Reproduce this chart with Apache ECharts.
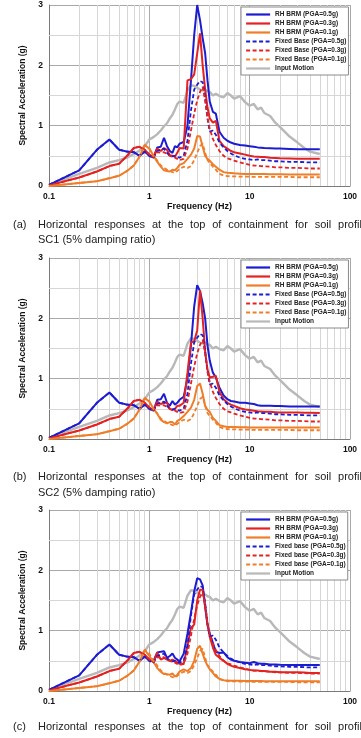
<!DOCTYPE html>
<html>
<head>
<meta charset="utf-8">
<title>Spectral acceleration at top of containment</title>
<script src="https://cdn.jsdelivr.net/npm/echarts@6/dist/echarts.min.js"></script>
<style>
  html, body { margin: 0; padding: 0; background: #fff; overflow: hidden; }
  #main { width: 361px; height: 738px; }
</style>
</head>
<body>
<div id="main"></div>
<script type="text/javascript">
// frequency grid (Hz) shared by every curve
var freq = [0.1, 0.2, 0.3, 0.4, 0.5, 0.6, 0.7, 0.8, 0.9, 1.0,
            1.1, 1.2, 1.3, 1.4, 1.5, 1.6, 1.7, 1.8, 1.9, 2.0,
            2.2, 2.4, 2.6, 2.8, 3.0, 3.2, 3.4, 3.6, 3.8, 4.0,
            4.3, 4.6, 5.0, 5.5, 6.0, 6.5, 7.0, 8.0, 9.0, 10,
            11, 12, 13, 14, 16, 18, 20, 25, 30, 35,
            40, 50];

// input motion (same in all panels)
var inputMotion = [0.02, 0.2, 0.3, 0.39, 0.43, 0.47, 0.53, 0.59, 0.66, 0.77,
                   0.81, 0.86, 0.92, 0.99, 1.04, 1.12, 1.18, 1.27, 1.36, 1.40,
                   1.38, 1.58, 1.67, 1.66, 1.63, 1.6, 1.58, 1.6, 1.57, 1.56,
                   1.5, 1.53, 1.49, 1.47, 1.54, 1.5, 1.45, 1.49, 1.39, 1.33,
                   1.36, 1.27, 1.3, 1.21, 1.16, 1.05, 0.98, 0.82, 0.72, 0.63,
                   0.57, 0.53];

// fixed base responses (same in all panels)
var fixedBase05 = [0.02, 0.26, 0.6, 0.77, 0.6, 0.57, 0.56, 0.5, 0.57, 0.5,
                   0.47, 0.58, 0.6, 0.62, 0.55, 0.5, 0.49, 0.5, 0.48, 0.47,
                   0.5, 0.75, 1.25, 1.6, 1.68, 1.74, 1.72, 1.45, 1.12, 0.9,
                   0.92, 0.85, 0.72, 0.64, 0.58, 0.54, 0.51, 0.47, 0.45, 0.44,
                   0.43, 0.44, 0.43, 0.43, 0.42, 0.41, 0.41, 0.4, 0.4, 0.395,
                   0.39, 0.39];
var fixedBase03 = [0.01, 0.14, 0.24, 0.33, 0.37, 0.5, 0.63, 0.65, 0.6, 0.52,
                   0.48, 0.56, 0.55, 0.56, 0.53, 0.5, 0.48, 0.47, 0.45, 0.43,
                   0.45, 0.62, 0.92, 1.2, 1.42, 1.56, 1.64, 1.42, 1.12, 0.95,
                   0.78, 0.68, 0.58, 0.5, 0.46, 0.44, 0.42, 0.39, 0.37, 0.35,
                   0.34, 0.335, 0.33, 0.325, 0.32, 0.31, 0.31, 0.3, 0.3, 0.295,
                   0.29, 0.29];
var fixedBase01 = [0, 0.05, 0.08, 0.13, 0.17, 0.25, 0.34, 0.49, 0.68, 0.62,
                   0.5, 0.42, 0.34, 0.3, 0.27, 0.25, 0.23, 0.22, 0.25, 0.28,
                   0.32, 0.3, 0.33, 0.43, 0.55, 0.66, 0.7, 0.55, 0.43, 0.38,
                   0.32, 0.27, 0.2, 0.175, 0.165, 0.16, 0.16, 0.155, 0.155, 0.155,
                   0.15, 0.15, 0.15, 0.15, 0.15, 0.15, 0.15, 0.15, 0.145, 0.145,
                   0.145, 0.145];

// RH BRM, soil profile SC1
var rhA05 = [0.02, 0.26, 0.6, 0.77, 0.6, 0.57, 0.56, 0.5, 0.57, 0.5,
             0.47, 0.64, 0.65, 0.8, 0.66, 0.58, 0.55, 0.66, 0.64, 0.7,
             0.73, 1.0, 1.75, 2.5, 3.0, 2.75, 2.45, 2.2, 1.75, 1.4,
             1.23, 1.2, 0.9, 0.8, 0.75, 0.72, 0.7, 0.68, 0.67, 0.66,
             0.65, 0.64, 0.635, 0.63, 0.625, 0.62, 0.62, 0.615, 0.61, 0.61,
             0.61, 0.61];
var rhA03 = [0.01, 0.14, 0.24, 0.33, 0.37, 0.5, 0.63, 0.65, 0.6, 0.52,
             0.48, 0.62, 0.58, 0.63, 0.6, 0.51, 0.5, 0.49, 0.55, 0.63,
             0.62, 1.75, 1.77, 1.85, 2.2, 2.53, 2.0, 1.6, 1.3, 1.12,
             1.05, 1.08, 0.75, 0.66, 0.62, 0.58, 0.56, 0.54, 0.52, 0.5,
             0.49, 0.485, 0.48, 0.48, 0.47, 0.465, 0.46, 0.455, 0.45, 0.45,
             0.45, 0.45];
var rhA01 = [0, 0.05, 0.08, 0.13, 0.17, 0.25, 0.34, 0.49, 0.68, 0.62,
             0.5, 0.4, 0.32, 0.26, 0.25, 0.24, 0.27, 0.26, 0.3, 0.35,
             0.38, 0.45, 0.52, 0.62, 0.83, 0.82, 0.65, 0.5, 0.45, 0.42,
             0.36, 0.32, 0.27, 0.23, 0.22, 0.215, 0.21, 0.205, 0.2, 0.2,
             0.2, 0.2, 0.2, 0.2, 0.195, 0.195, 0.195, 0.19, 0.19, 0.19,
             0.19, 0.19];

// RH BRM, soil profile SC2
var rhB05 = [0.02, 0.26, 0.6, 0.77, 0.6, 0.57, 0.56, 0.5, 0.57, 0.5,
             0.47, 0.65, 0.66, 0.75, 0.6, 0.55, 0.63, 0.57, 0.6, 0.65,
             0.7, 1.0, 1.55, 2.2, 2.55, 2.45, 2.25, 2.0, 1.55, 1.3,
             1.1, 1.02, 0.85, 0.72, 0.66, 0.63, 0.62, 0.6, 0.6, 0.59,
             0.58, 0.56, 0.55, 0.55, 0.55, 0.545, 0.545, 0.54, 0.54, 0.54,
             0.54, 0.54];
var rhB03 = [0.01, 0.14, 0.24, 0.33, 0.37, 0.5, 0.63, 0.65, 0.6, 0.52,
             0.48, 0.62, 0.58, 0.6, 0.6, 0.5, 0.48, 0.5, 0.55, 0.55,
             0.6, 1.1, 1.6, 1.62, 1.8, 2.47, 2.0, 1.45, 1.15, 1.02,
             1.03, 1.05, 0.78, 0.66, 0.6, 0.57, 0.55, 0.51, 0.49, 0.48,
             0.47, 0.46, 0.455, 0.45, 0.45, 0.445, 0.44, 0.44, 0.44, 0.435,
             0.435, 0.43];
var rhB01 = [0, 0.05, 0.08, 0.13, 0.17, 0.25, 0.34, 0.49, 0.68, 0.62,
             0.5, 0.42, 0.32, 0.28, 0.26, 0.28, 0.28, 0.24, 0.3, 0.32,
             0.38, 0.45, 0.52, 0.65, 0.88, 0.92, 0.75, 0.55, 0.48, 0.45,
             0.35, 0.3, 0.23, 0.21, 0.2, 0.2, 0.2, 0.195, 0.195, 0.19,
             0.19, 0.19, 0.19, 0.19, 0.19, 0.19, 0.19, 0.19, 0.19, 0.19,
             0.19, 0.19];

// RH BRM, third soil profile
var rhC05 = [0.02, 0.26, 0.6, 0.77, 0.6, 0.57, 0.56, 0.5, 0.57, 0.5,
             0.5, 0.64, 0.65, 0.66, 0.55, 0.58, 0.62, 0.55, 0.52, 0.49,
             0.62, 0.95, 1.3, 1.65, 1.87, 1.85, 1.75, 1.4, 1.1, 0.95,
             0.8, 0.65, 0.63, 0.64, 0.56, 0.52, 0.5, 0.48, 0.47, 0.46,
             0.48, 0.46, 0.45, 0.45, 0.44, 0.44, 0.435, 0.43, 0.43, 0.43,
             0.43, 0.43];
var rhC03 = [0.01, 0.14, 0.24, 0.33, 0.37, 0.5, 0.63, 0.65, 0.6, 0.52,
             0.48, 0.64, 0.52, 0.55, 0.52, 0.5, 0.52, 0.5, 0.47, 0.45,
             0.45, 0.75, 1.05, 1.1, 1.5, 1.68, 1.68, 1.4, 1.1, 0.9,
             0.72, 0.6, 0.55, 0.5, 0.45, 0.42, 0.4, 0.38, 0.36, 0.35,
             0.34, 0.34, 0.33, 0.33, 0.32, 0.32, 0.31, 0.31, 0.31, 0.305,
             0.3, 0.3];
var rhC01 = [0, 0.05, 0.08, 0.13, 0.17, 0.25, 0.34, 0.49, 0.68, 0.58,
             0.48, 0.38, 0.32, 0.28, 0.28, 0.27, 0.29, 0.24, 0.27, 0.32,
             0.36, 0.33, 0.38, 0.5, 0.7, 0.75, 0.62, 0.5, 0.42, 0.36,
             0.3, 0.24, 0.2, 0.18, 0.175, 0.17, 0.17, 0.17, 0.165, 0.165,
             0.165, 0.165, 0.165, 0.16, 0.16, 0.16, 0.16, 0.16, 0.16, 0.16,
             0.16, 0.16];

// minor grid positions (log decades) and half-unit rows
var minorFreq = [0.2, 0.3, 0.4, 0.5, 0.6, 0.7, 0.8, 0.9,
                 2, 3, 4, 5, 6, 7, 8, 9,
                 20, 30, 40, 50, 60, 70, 80, 90];
var halfRows = [0.5, 1.5, 2.5];

var colors = ['#1c1cd2', '#e42222', '#f07d28'];
var grayColor = '#b8b8b8';
var font = 'Liberation Sans';
var captionFont = '11px "Liberation Sans"';

var panels = [
    { top: 5, rh: [rhA05, rhA03, rhA01], fb: 'Fixed Base', tag: '(a)',
      caption: ['Horizontal responses at the top of containment for soil profile', 'SC1 (5% damping ratio)'],
      capTop: [219, 234] },
    { top: 258, rh: [rhB05, rhB03, rhB01], fb: 'Fixed Base', tag: '(b)',
      caption: ['Horizontal responses at the top of containment for soil profile', 'SC2 (5% damping ratio)'],
      capTop: [471, 487] },
    { top: 510, rh: [rhC05, rhC03, rhC01], fb: 'Fixed base', tag: '(c)',
      caption: ['Horizontal responses at the top of containment for soil profile', 'SC3 (5% damping ratio)'],
      capTop: [721, 737] }
];
var pga = ['0.5g', '0.3g', '0.1g'];
var fixedBase = [fixedBase05, fixedBase03, fixedBase01];

function pairs(arr) {
    return freq.map(function (f, i) { return [f, arr[i]]; });
}

// justified caption line: words spread between x0 and x1
var measureCtx = document.createElement('canvas').getContext('2d');
measureCtx.font = captionFont;
function justified(text, x0, x1, top) {
    var words = text.split(' ');
    var widths = words.map(function (w) { return measureCtx.measureText(w).width; });
    var total = widths.reduce(function (a, b) { return a + b; }, 0);
    var gap = (x1 - x0 - total) / (words.length - 1);
    var x = x0, out = [];
    words.forEach(function (w, i) {
        out.push({ type: 'text', x: x, y: top, style: { text: w, font: captionFont, fill: '#222' } });
        x += widths[i] + gap;
    });
    return out;
}

var option = {
    animation: false,
    grid: [], xAxis: [], yAxis: [], legend: [], series: [], graphic: []
};

panels.forEach(function (p, k) {
    option.grid.push({ left: 49, top: p.top, width: 301, height: 181, containLabel: false, outerBoundsMode: 'none' });
    option.xAxis.push({
        gridIndex: k, type: 'log', logBase: 10, min: 0.1, max: 100,
        axisLine: { show: true, onZero: false, lineStyle: { color: '#7a7a7a' } },
        axisTick: { show: false },
        splitLine: { show: true, lineStyle: { color: '#a9a9a9', width: 1 } },
        axisLabel: { color: '#111', fontWeight: 'bold', fontSize: 8.5, fontFamily: font, margin: 6,
                     showMinLabel: true, showMaxLabel: true,
                     formatter: function (v) { return String(+(+v).toPrecision(3)); } },
        name: 'Frequency (Hz)', nameLocation: 'middle', nameGap: 15,
        nameTextStyle: { color: '#111', fontWeight: 'bold', fontSize: 9, fontFamily: font }
    });
    option.yAxis.push({
        gridIndex: k, type: 'value', min: 0, max: 3, interval: 1,
        axisLine: { show: true, lineStyle: { color: '#7a7a7a' } },
        axisTick: { show: false },
        splitLine: { show: true, lineStyle: { color: '#a9a9a9', width: 1 } },
        axisLabel: { color: '#111', fontWeight: 'bold', fontSize: 8.5, fontFamily: font, margin: 6 },
        name: 'Spectral Acceleration (g)', nameLocation: 'middle', nameRotate: 90, nameGap: 12,
        nameTextStyle: { color: '#111', fontWeight: 'bold', fontSize: 8.5, fontFamily: font }
    });

    // minor grid lines
    option.series.push({
        type: 'line', xAxisIndex: k, yAxisIndex: k, data: [], silent: true,
        markLine: {
            silent: true, symbol: 'none', z: 1, animation: false,
            label: { show: false },
            lineStyle: { color: '#d6d6d6', width: 1, type: 'solid' },
            data: minorFreq.map(function (v) { return { xAxis: v }; })
                .concat(halfRows.map(function (v) { return { yAxis: v }; }))
        }
    });

    option.series.push({
        name: 'Input Motion', type: 'line', xAxisIndex: k, yAxisIndex: k,
        symbol: 'none', data: pairs(inputMotion),
        lineStyle: { color: grayColor, width: 2.4 }, itemStyle: { color: grayColor }
    });

    var names = [];
    for (var j = 0; j < 3; j++) names.push('RH BRM (PGA=' + pga[j] + ')');
    for (var j = 0; j < 3; j++) names.push(p.fb + ' (PGA=' + pga[j] + ')');
    names.push('Input Motion');

    for (var j = 0; j < 3; j++) {
        option.series.push({
            name: names[j], type: 'line', xAxisIndex: k, yAxisIndex: k,
            symbol: 'none', data: pairs(p.rh[j]),
            lineStyle: { color: colors[j], width: 2 }, itemStyle: { color: colors[j] }
        });
    }
    for (var j = 0; j < 3; j++) {
        option.series.push({
            name: names[3 + j], type: 'line', xAxisIndex: k, yAxisIndex: k,
            symbol: 'none', data: pairs(fixedBase[j]),
            lineStyle: { color: colors[j], width: 1.8, type: [4, 2.5] }, itemStyle: { color: colors[j] }
        });
    }

    option.legend.push({
        data: names, orient: 'vertical', left: 241, top: p.top + 2,
        itemWidth: 24, itemHeight: 6, itemGap: 2, padding: [4, 2, 3, 4],
        backgroundColor: '#fff', borderColor: '#8a8a8a', borderWidth: 1, borderRadius: 0,
        selectedMode: false,
        itemStyle: { opacity: 0 },
        lineStyle: { width: 2.2 },
        textStyle: { fontSize: 6.5, fontWeight: 'bold', color: '#222', fontFamily: font, lineHeight: 6 }
    });

    option.graphic.push({
        type: 'text', x: 13, y: p.capTop[0],
        style: { text: p.tag, font: captionFont, fill: '#222' }
    });
    option.graphic = option.graphic.concat(justified(p.caption[0], 38, 368, p.capTop[0]));
    option.graphic.push({
        type: 'text', x: 38, y: p.capTop[1],
        style: { text: p.caption[1], font: captionFont, fill: '#222' }
    });
});

var myChart = echarts.init(document.getElementById('main'));
myChart.setOption(option);
</script>
</body>
</html>
